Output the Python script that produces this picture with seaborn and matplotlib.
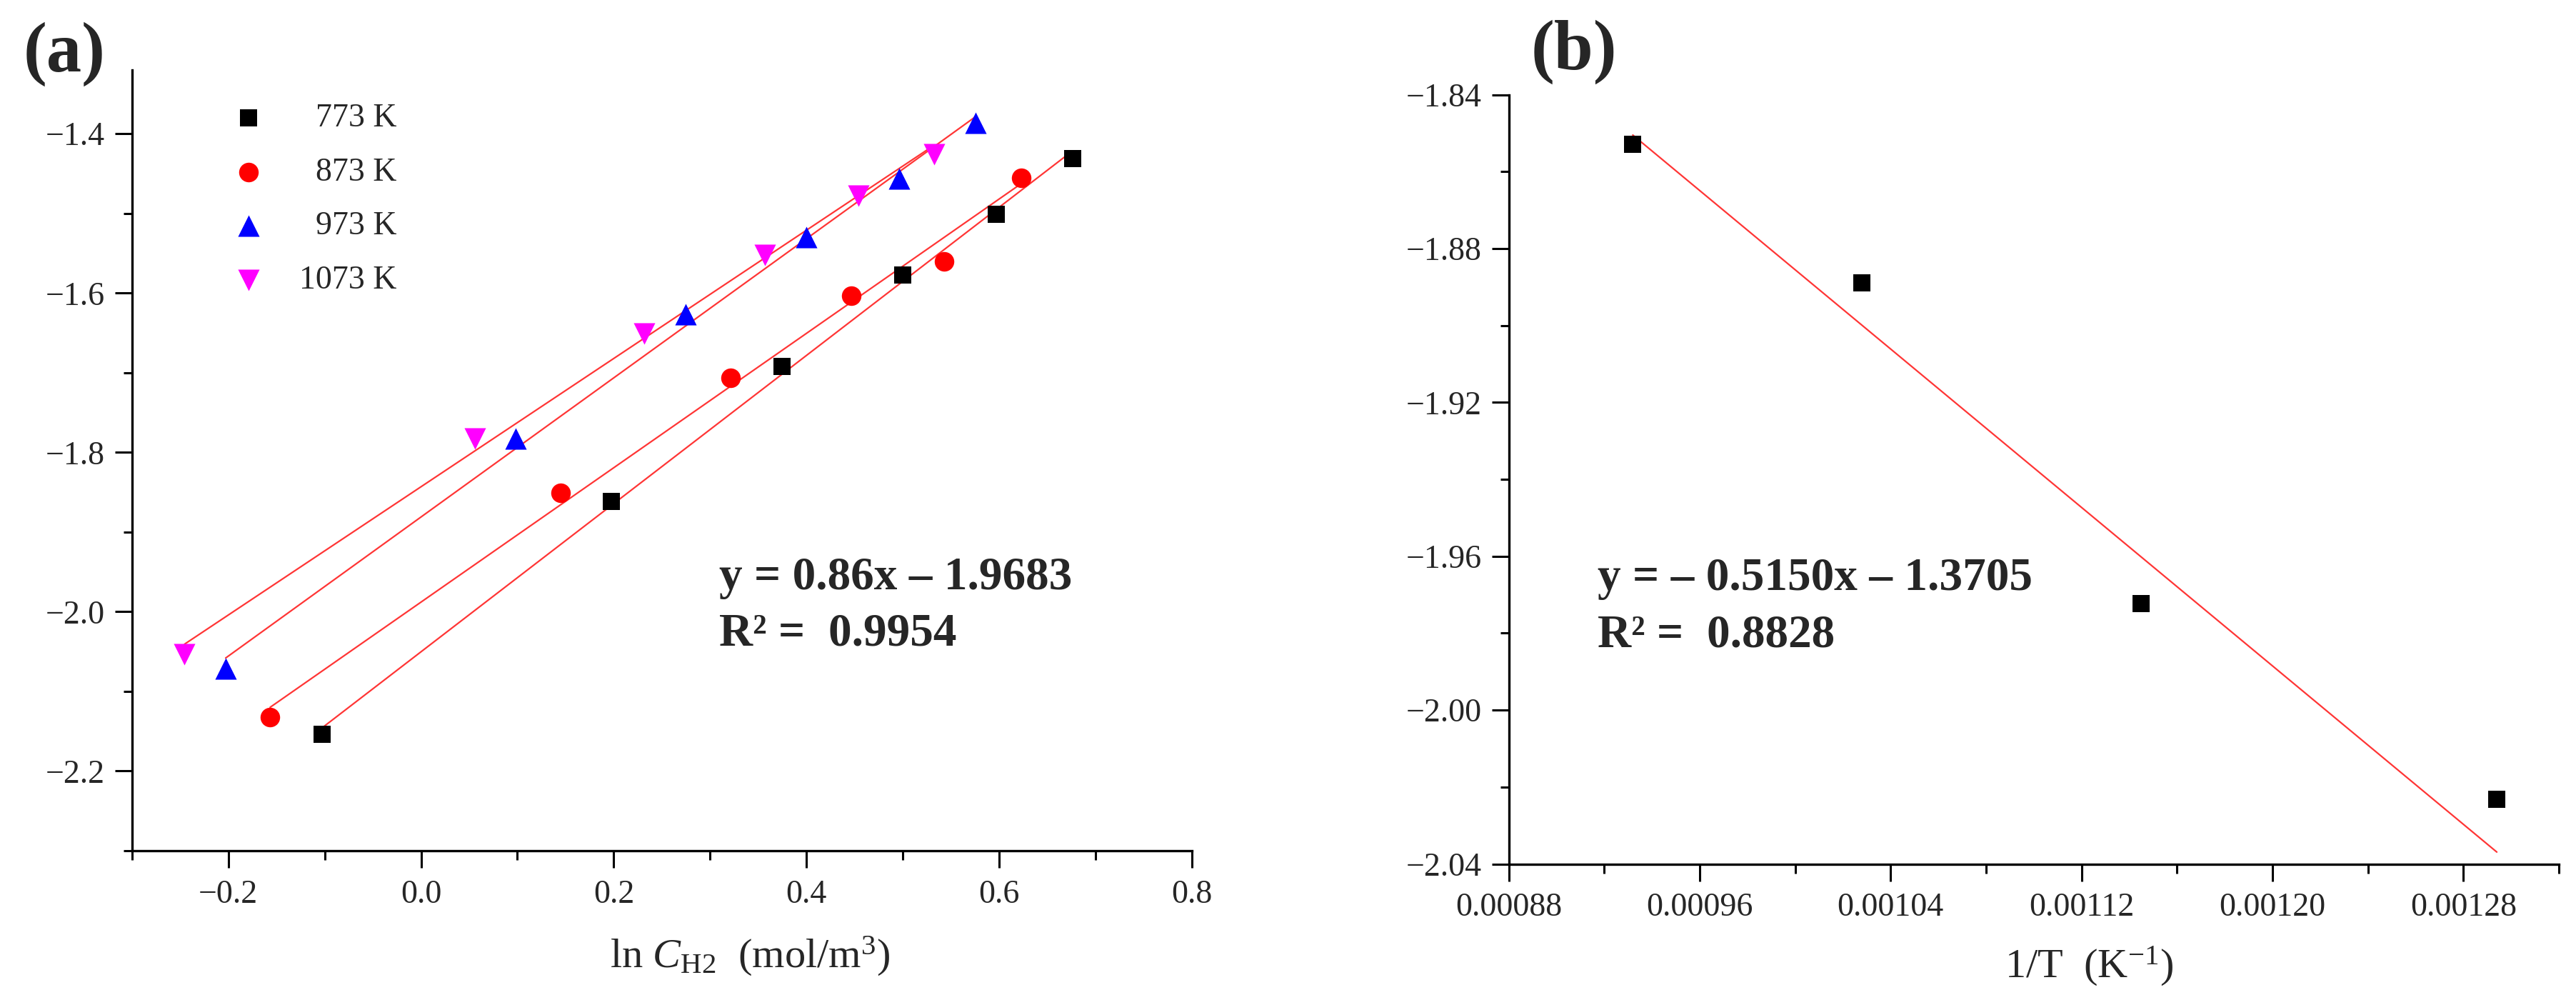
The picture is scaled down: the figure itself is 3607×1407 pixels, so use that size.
import numpy as np
import pandas as pd
import matplotlib
matplotlib.use("Agg")
import matplotlib.pyplot as plt
from matplotlib.ticker import FixedLocator, FuncFormatter
import seaborn as sns

# ---------------- data ----------------
temps_a = ["773 K", "873 K", "973 K", "1073 K"]
x_773 = [-0.103, 0.1978, 0.3745, 0.4997, 0.5966, 0.676]
y_773 = [-2.154, -1.862, -1.692, -1.577, -1.501, -1.431]
x_873 = [-0.1566, 0.1452, 0.3212, 0.4464, 0.5427, 0.6226]
y_873 = [-2.132, -1.851, -1.706, -1.603, -1.560, -1.455]
x_973 = [-0.2027, 0.098, 0.2744, 0.3996, 0.4965, 0.5758]
y_973 = [-2.071, -1.783, -1.627, -1.530, -1.456, -1.386]
x_1073 = [-0.2454, 0.0557, 0.2319, 0.357, 0.4539, 0.5328]
y_1073 = [-2.053, -1.783, -1.651, -1.552, -1.478, -1.426]

inv_T = [0.000932, 0.001028, 0.001145, 0.001294]
ln_k = [-1.8528, -1.8889, -1.9723, -2.0232]
fit_b_slope = -0.5150      # per (1000/T)
fit_b_intercept = -1.3705

eq_a = ["y = 0.86x \u2013 1.9683", "R\u00b2 =  0.9954"]
eq_b = ["y = \u2013 0.5150x \u2013 1.3705", "R\u00b2 =  0.8828"]

xa_major = [-0.2, 0.0, 0.2, 0.4, 0.6, 0.8]
xa_minor = [-0.3, -0.1, 0.1, 0.3, 0.5, 0.7]
ya_major = [-2.2, -2.0, -1.8, -1.6, -1.4]
ya_minor = [-2.3, -2.1, -1.9, -1.7, -1.5]
xb_major = [0.00088, 0.00096, 0.00104, 0.00112, 0.00120, 0.00128]
xb_minor = [0.00092, 0.00100, 0.00108, 0.00116, 0.00124, 0.00132]
yb_major = [-2.04, -2.00, -1.96, -1.92, -1.88, -1.84]
yb_minor = [-2.02, -1.98, -1.94, -1.90, -1.86]

# ---------------- style ----------------
sns.set_theme(style="ticks")
plt.rcParams["font.family"] = ["Liberation Serif", "DejaVu Serif"]
plt.rcParams["mathtext.fontset"] = "custom"
plt.rcParams["mathtext.rm"] = "Liberation Serif"
plt.rcParams["mathtext.it"] = "Liberation Serif:italic"
plt.rcParams["mathtext.bf"] = "Liberation Serif:bold"
plt.rcParams["axes.linewidth"] = 2.4
plt.rcParams["axes.edgecolor"] = "black"

W, H = 3607, 1407
fig = plt.figure(figsize=(W / 100, H / 100), dpi=100)
fig.patch.set_facecolor("white")

ax_a = fig.add_axes([184.7 / W, 1 - 1191 / H, (1669 - 184.7) / W, (1191 - 98) / H])
ax_b = fig.add_axes([2112.5 / W, 1 - 1209.5 / H, (3583 - 2112.5) / W, (1209.5 - 132.6) / H])

line_color = "#ff3535"
series = [
    (temps_a[0], x_773, y_773, "black", "s", 300),
    (temps_a[1], x_873, y_873, "#ff0000", "o", 390),
    (temps_a[2], x_973, y_973, "#0000ff", "^", 470),
    (temps_a[3], x_1073, y_1073, "#ff00ff", "v", 470),
]

labels_disp = ["\u2007773 K", "\u2007873 K", "\u2007973 K", "1073 K"]
for (name, xs, ys, col, mk, sz), lab in zip(series, labels_disp):
    df = pd.DataFrame({"x": xs, "y": ys})
    sns.regplot(data=df, x="x", y="y", ax=ax_a, scatter=False, ci=None, truncate=True,
                line_kws=dict(color=line_color, lw=1.6, zorder=2))
    sns.scatterplot(data=df, x="x", y="y", ax=ax_a, color=col, marker=mk, s=sz,
                    linewidth=0, label=lab, zorder=3)

# panel (b)
df_b = pd.DataFrame({"x": inv_T, "y": ln_k})
xfit = np.array([min(inv_T), max(inv_T)])
df_fit = pd.DataFrame({"x": xfit, "y": fit_b_slope * (1000 * xfit) + fit_b_intercept})
sns.lineplot(data=df_fit, x="x", y="y", ax=ax_b, color=line_color, lw=1.6, zorder=2)
sns.scatterplot(data=df_b, x="x", y="y", ax=ax_b, color="black", marker="s", s=290,
                linewidth=0, zorder=3)


def minus_fmt(dec):
    def f(v, pos):
        s = f"{abs(v):.{dec}f}"
        return ("\u2212" + s) if v < -1e-12 else s
    return FuncFormatter(f)


for ax in (ax_a, ax_b):
    sns.despine(ax=ax)
    ax.tick_params(which="major", direction="out", length=17, width=2.2, labelsize=33, color="black")
    ax.tick_params(which="minor", direction="out", length=9, width=2.2, color="black")
    ax.tick_params(axis="y", which="major", pad=10)
    ax.tick_params(axis="x", which="major", pad=12)
    ax.set_ylabel("")

ax_a.set_xlim(-0.3, 0.8)
ax_a.set_ylim(-2.3, -1.32)
ax_a.xaxis.set_major_locator(FixedLocator(xa_major))
ax_a.xaxis.set_minor_locator(FixedLocator(xa_minor))
ax_a.yaxis.set_major_locator(FixedLocator(ya_major))
ax_a.yaxis.set_minor_locator(FixedLocator(ya_minor))
ax_a.xaxis.set_major_formatter(minus_fmt(1))
ax_a.yaxis.set_major_formatter(minus_fmt(1))

ax_b.set_xlim(0.00088, 0.00132)
ax_b.set_ylim(-2.04, -1.84)
ax_b.xaxis.set_major_locator(FixedLocator(xb_major))
ax_b.xaxis.set_minor_locator(FixedLocator(xb_minor))
ax_b.yaxis.set_major_locator(FixedLocator(yb_major))
ax_b.yaxis.set_minor_locator(FixedLocator(yb_minor))
ax_b.xaxis.set_major_formatter(minus_fmt(5))
ax_b.yaxis.set_major_formatter(minus_fmt(2))

ax_a.set_xlabel(r"ln $\mathit{C}_{\mathrm{H2}}$  (mol/m$^{3}$)", fontsize=42)
ax_a.xaxis.set_label_coords(0.583, -0.108)
ax_b.set_xlabel(r"1/T  (K$^{-1}$)", fontsize=42)
ax_b.xaxis.set_label_coords(0.5525, -0.105)

leg = ax_a.legend(loc="upper left", bbox_to_anchor=(0.1006, 0.957), frameon=False,
                  fontsize=33, handlelength=0.6, handletextpad=1.25, labelspacing=0.72,
                  borderpad=0, borderaxespad=0)

# equations
eq_size = 47
fig.text(1007 / W, 1 - 825 / H, eq_a[0], fontsize=eq_size, fontweight="bold", va="baseline", ha="left")
fig.text(1007 / W, 1 - 904 / H, eq_a[1], fontsize=eq_size, fontweight="bold", va="baseline", ha="left")
fig.text(2237 / W, 1 - 826 / H, eq_b[0], fontsize=eq_size, fontweight="bold", va="baseline", ha="left")
fig.text(2237 / W, 1 - 905 / H, eq_b[1], fontsize=eq_size, fontweight="bold", va="baseline", ha="left")

# panel letters
fig.text(33 / W, 1 - 31 / H, "(a)", fontsize=71, fontweight="bold", va="top", ha="left")
fig.text(2144 / W, 1 - 28 / H, "(b)", fontsize=71, fontweight="bold", va="top", ha="left")

fig.savefig("out.png", dpi=100, facecolor="white")
